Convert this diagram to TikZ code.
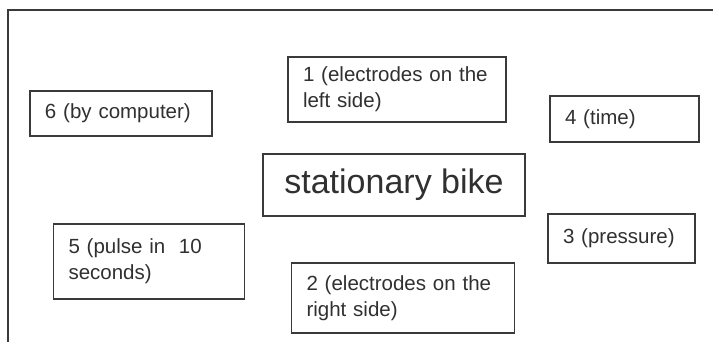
\documentclass[tikz,border=0pt]{standalone}
\usepackage{fontspec}
\setmainfont{Liberation Sans}
\definecolor{inkgray}{HTML}{303030}
\definecolor{linegray}{HTML}{3a3a3a}

\begin{document}
\begin{tikzpicture}[x=1pt, y=-1pt, line width=1.3pt]
        \tikzstyle{every node}=[draw=linegray, text=inkgray, inner xsep=15pt, inner ysep=0pt, align=left]
        \tikzstyle{partbox}=[font=\fontsize{20.5}{26}\selectfont]
        \tikzstyle{bikebox}=[font=\fontsize{34}{40}\selectfont, align=center, minimum width=262pt, minimum height=62pt]
        \useasboundingbox (0,0) rectangle (713,342);
        % frame, only top and left edges are visible
        \draw [linegray] (8,342) -- (8,10) -- (713,10);
        \node [bikebox] (bike) at (394,185) {stationary bike};
        \node [partbox, text width=188pt, minimum height=65pt] (left) at (397,89.5) {1 (electrodes on the\\left side)};
        \node [partbox, text width=193pt, minimum height=70pt] (right) at (403,298) {2 (electrodes on the\\right side)};
        \node [partbox, text width=117pt, minimum height=49pt] (pressure) at (621.5,238.5) {3 (pressure)};
        \node [partbox, text width=119pt, minimum height=46pt] (time) at (624.5,119) {4 (time)};
        \node [partbox, text width=161pt, minimum height=75pt] (pulse) at (149,261.5) {5 (pulse in\ \ 10\\seconds)};
        \node [partbox, text width=152pt, minimum height=45pt] (computer) at (121,113.5) {6 (by computer)};
\end{tikzpicture}
\end{document}
